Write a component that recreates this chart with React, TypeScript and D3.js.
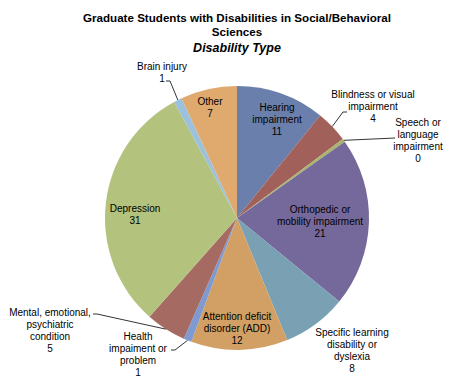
import React from "react";
import * as d3 from "d3";

const categories = [
  "Hearing impairment",
  "Blindness or visual impairment",
  "Speech or language impairment",
  "Orthopedic or mobility impairment",
  "Specific learning disability or dyslexia",
  "Attention deficit disorder (ADD)",
  "Health impaiment or problem",
  "Mental, emotional, psychiatric condition",
  "Depression",
  "Brain injury",
  "Other",
];
const values = [11, 4, 0.4, 21, 8, 12, 1, 5, 31, 1, 7];
const colors = [
  "#6A7FAB", "#A1605A", "#A9B46C", "#75689A", "#7AA0B4", "#D2A064",
  "#7F9AD0", "#A56B62", "#B3C27C", "#9CC1DD", "#E0A96E",
];
const labelLines = [
  ["Hearing", "impairment"],
  ["Blindness or visual", "impairment"],
  ["Speech or", "language", "impairment"],
  ["Orthopedic or", "mobility impairment"],
  ["Specific learning", "disability or", "dyslexia"],
  ["Attention deficit", "disorder (ADD)"],
  ["Health", "impaiment or", "problem"],
  ["Mental, emotional,", "psychiatric", "condition"],
  ["Depression"],
  ["Brain injury"],
  ["Other"],
];
// label layout: x, y of first line; leader end point (or null)
const labelLayout: { x: number; y: number; leader: [number, number][] | null }[] = [
  { x: 277, y: 111, leader: null },
  { x: 373, y: 98, leader: [[343, 112], [347, 112]] },
  { x: 418, y: 126, leader: [[395, 138]] },
  { x: 320, y: 213, leader: null },
  { x: 352, y: 336, leader: null },
  { x: 237, y: 320, leader: null },
  { x: 138, y: 340, leader: [[175, 350], [171, 350]] },
  { x: 50, y: 316, leader: [[97, 314], [93, 314]] },
  { x: 135, y: 212, leader: null },
  { x: 162, y: 70, leader: [[170, 81], [166, 81]] },
  { x: 210, y: 105, leader: null },
];

const W = 475, H = 388;
const cx = 237, cy = 218, R = 132;
const LH = 12;

export default function App() {
  const pie = d3.pie<number>().sort(null).value((d) => d);
  const arcs = pie(values);
  const arc = d3.arc<d3.PieArcDatum<number>>().innerRadius(0).outerRadius(R);
  const font = "Arial, 'Liberation Sans', Helvetica, sans-serif";
  return (
    <svg width={W} height={H} style={{ position: "absolute", left: 0, top: 0, background: "#fff" }}
      fontFamily={font}>
      <text x={cx} y={22} textAnchor="middle" fontWeight="bold" fontSize={11.6} fill="#000">
        Graduate Students with Disabilities in Social/Behavioral
      </text>
      <text x={cx} y={36} textAnchor="middle" fontWeight="bold" fontSize={11.6} fill="#000">
        Sciences
      </text>
      <text x={cx} y={52} textAnchor="middle" fontWeight="bold" fontStyle="italic" fontSize={12.5} fill="#000">
        Disability Type
      </text>
      <g transform={`translate(${cx},${cy})`}>
        {arcs.map((a, i) => (
          <path key={i} d={arc(a) || ""} fill={colors[i]} />
        ))}
      </g>
      {arcs.map((a, i) => {
        const L = labelLayout[i];
        if (!L.leader) return null;
        const mid = (a.startAngle + a.endAngle) / 2;
        const sx = cx + R * Math.sin(mid);
        const sy = cy - R * Math.cos(mid);
        const pts = [[sx, sy], ...L.leader];
        return (
          <path key={"l" + i} d={d3.line()(pts as [number, number][]) || ""} fill="none" stroke="#000" strokeWidth={0.8} />
        );
      })}
      {arcs.map((a, i) => {
        const L = labelLayout[i];
        const lines = [...labelLines[i], String(Math.round(values[i]))];
        return (
          <text key={"t" + i} x={L.x} y={L.y} textAnchor="middle" fontSize={10} fill="#000">
            {lines.map((s, j) => (
              <tspan key={j} x={L.x} y={L.y + j * LH}>{s}</tspan>
            ))}
          </text>
        );
      })}
    </svg>
  );
}
